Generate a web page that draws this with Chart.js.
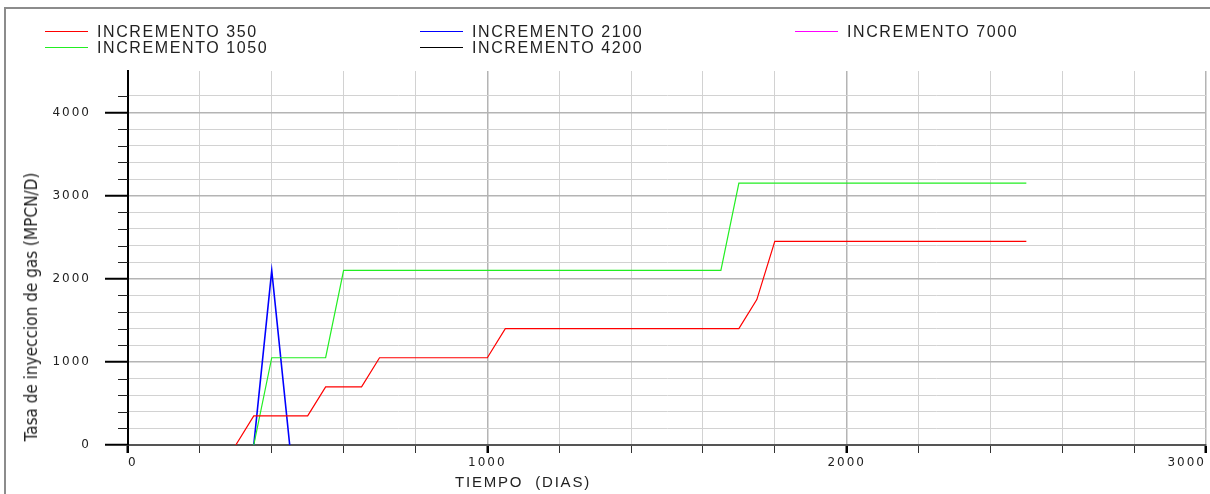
<!DOCTYPE html>
<html>
<head>
<meta charset="utf-8">
<script src="https://cdn.jsdelivr.net/npm/chart.js@4/dist/chart.umd.min.js"></script>
<style>
  body { margin: 0; background: #fff; overflow: hidden; }
  #wrap { position: relative; width: 1210px; height: 494px; overflow: hidden; }
  .rule { position: absolute; background: #8c8c8c; }
  #legend { position: absolute; left: 0; top: 0; }
  .item { position: absolute; height: 16px; font: 16px "Liberation Sans", Arial, sans-serif;
          letter-spacing: 1.6px; color: #222; white-space: nowrap; line-height: 16px; }
  .item span.sw { display: inline-block; width: 43px; height: 1px; vertical-align: middle;
                  margin-right: 9px; position: relative; top: -1px; }
  #ytitle { position: absolute; left: 31px; top: 307px; transform: translate(-50%, -50%) rotate(-90deg);
            font: 17px "DejaVu Sans Condensed", "DejaVu Sans", sans-serif; color: #222; white-space: nowrap; }
  #xtitle { position: absolute; left: 523px; top: 481px; transform: translate(-50%, -50%);
            font: 15px "Liberation Sans", Arial, sans-serif; letter-spacing: 1.8px; color: #222;
            white-space: pre; }
  canvas { position: absolute; left: 0; top: 0; }
</style>
</head>
<body>
<div id="wrap">
  <canvas id="chart" width="1210" height="494"></canvas>
  <div class="rule" style="left:4px; top:7px; width:1206px; height:2px;"></div>
  <div class="rule" style="left:4px; top:7px; width:2px; height:487px;"></div>
  <div id="legend"></div>
  <div id="ytitle">Tasa de inyeccion de gas (MPCN/D)</div>
  <div id="xtitle">TIEMPO  (DIAS)</div>
</div>
<script>
// series (x = days, y = MPCN/D)
const seriesNames = ["INCREMENTO 350", "INCREMENTO 1050", "INCREMENTO 2100", "INCREMENTO 4200", "INCREMENTO 7000"];
const seriesColors = ["#ff0000", "#22ee22", "#0000ff", "#000000", "#ff00ff"];

const days350 = [300, 350, 500, 550, 650, 700, 1000, 1050, 1700, 1750, 1800, 2500];
const rate350 = [0, 350, 350, 700, 700, 1050, 1050, 1400, 1400, 1750, 2450, 2450];

const days1050 = [350, 400, 550, 600, 1650, 1700, 2500];
const rate1050 = [0, 1050, 1050, 2100, 2100, 3150, 3150];

const days2100 = [350, 400, 450];
const rate2100 = [0, 2100, 0];

// 4200 and 7000 are in the legend but show no visible line
const days4200 = [];
const rate4200 = [];
const days7000 = [];
const rate7000 = [];

const xTickLabels = [0, 1000, 2000, 3000];
const yTickLabels = [0, 1000, 2000, 3000, 4000];

const allDays = [days350, days1050, days2100, days4200, days7000];
const allRates = [rate350, rate1050, rate2100, rate4200, rate7000];

// legend in three columns, filled column by column
const legendSlots = [[45, 24], [45, 40], [420, 24], [420, 40], [795, 24]];
const legend = document.getElementById("legend");
seriesNames.forEach((name, i) => {
  const div = document.createElement("div");
  div.className = "item";
  div.style.left = legendSlots[i][0] + "px";
  div.style.top = legendSlots[i][1] + "px";
  div.innerHTML = '<span class="sw" style="background:' + seriesColors[i] + '"></span>' + name;
  legend.appendChild(div);
});

const datasets = seriesNames.map((name, i) => ({
  label: name,
  data: allDays[i].map((d, k) => ({ x: d, y: allRates[i][k] })),
  borderColor: seriesColors[i],
  backgroundColor: "transparent",
  borderWidth: i === 2 ? 1.6 : 1.2,
  pointRadius: 0,
  tension: 0,
}));

// short minor ticks on the y axis
const minorTicks = {
  id: "minorTicks",
  beforeDraw(chart) {
    chart.ctx.letterSpacing = "2px";
  },
  afterDraw(chart) {
    const y = chart.scales.y;
    const ctx = chart.ctx;
    const left = chart.chartArea.left;
    ctx.save();
    ctx.strokeStyle = "#222";
    ctx.lineWidth = 1;
    y.ticks.forEach(t => {
      if (t.value % 1000 !== 0) {
        const py = Math.round(y.getPixelForValue(t.value)) + 0.5;
        ctx.beginPath();
        ctx.moveTo(left - 10, py);
        ctx.lineTo(left, py);
        ctx.stroke();
      }
    });
    ctx.restore();
  }
};

const isMajor = v => v % 1000 === 0;

new Chart(document.getElementById("chart"), {
  type: "line",
  data: { datasets },
  plugins: [minorTicks],
  options: {
    responsive: false,
    animation: false,
    devicePixelRatio: 1,
    layout: { padding: { top: 71, right: 4, left: 0, bottom: 0 } },
    plugins: { legend: { display: false }, tooltip: { enabled: false } },
    scales: {
      x: {
        type: "linear",
        min: 0,
        max: 3000,
        afterFit: s => { s.height = 49; },
        ticks: {
          stepSize: 200,
          autoSkip: false,
          maxRotation: 0,
          align: "inner",
          padding: 3,
          color: "#222",
          font: { family: "DejaVu Sans", size: 12 },
          callback: v => (xTickLabels.includes(v) ? String(v) : ""),
        },
        grid: {
          color: c => (c.tick && isMajor(c.tick.value) ? "#b4b4b4" : "#d2d2d2"),
          lineWidth: c => (c.tick && isMajor(c.tick.value) ? 1.5 : 1),
          tickLength: 8,
          tickColor: c => (c.tick && isMajor(c.tick.value) ? "#000" : "#333"),
          tickWidth: c => (c.tick && isMajor(c.tick.value) ? 2.5 : 1),
        },
        border: { color: "#555", width: 2 },
      },
      y: {
        min: 0,
        max: 4500,
        afterFit: s => { s.width = 128; },
        afterBuildTicks: s => { s.ticks = s.ticks.filter(t => t.value % 200 === 0); },
        ticks: {
          stepSize: 200,
          autoSkip: false,
          padding: 14,
          color: "#222",
          font: { family: "DejaVu Sans", size: 12 },
          callback: v => (yTickLabels.includes(v) ? String(v) : ""),
        },
        grid: {
          color: c => (c.tick && isMajor(c.tick.value) ? "#b4b4b4" : "#d2d2d2"),
          lineWidth: c => (c.tick && isMajor(c.tick.value) ? 1.5 : 1),
          tickLength: 23,
          tickColor: c => (c.tick && isMajor(c.tick.value) ? "#000" : "rgba(0,0,0,0)"),
          tickWidth: c => (c.tick && isMajor(c.tick.value) ? 2 : 1),
        },
        border: { color: "#000", width: 2 },
      },
    },
  },
});
</script>
</body>
</html>
